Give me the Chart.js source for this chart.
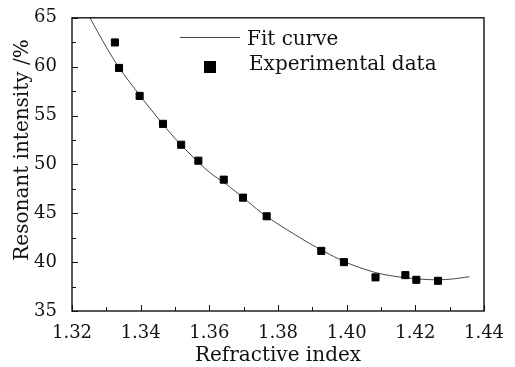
<!DOCTYPE html>
<html>
<head>
<meta charset="utf-8">
<script src="https://cdn.jsdelivr.net/npm/chart.js@4.4.1/dist/chart.umd.min.js"></script>
<style>
  html, body { margin: 0; padding: 0; background: #fff; }
  #wrap { width: 515px; height: 367px; }
</style>
</head>
<body>
<div id="wrap"><canvas id="chart"></canvas></div>
<script>
// measured points
const expIndex = [1.3325, 1.3337, 1.3397, 1.3465, 1.3518, 1.3568, 1.3642, 1.3698, 1.3767, 1.3926, 1.3992, 1.4084, 1.4171, 1.4203, 1.4266];
const expIntensity = [62.48, 59.87, 57.01, 54.15, 52.01, 50.38, 48.44, 46.6, 44.69, 41.15, 40.0, 38.44, 38.67, 38.19, 38.09];

// fitted curve
const fitIndex = [1.3252, 1.330, 1.3337, 1.340, 1.345, 1.350, 1.355, 1.360, 1.365, 1.370, 1.375, 1.380, 1.385, 1.390, 1.395, 1.400, 1.405, 1.410, 1.415, 1.420, 1.425, 1.430, 1.4357];
const fitIntensity = [65.0, 62.0, 59.9, 56.95, 54.75, 52.65, 50.85, 49.2, 47.95, 46.55, 45.1, 43.9, 42.8, 41.75, 40.8, 39.95, 39.3, 38.8, 38.5, 38.3, 38.2, 38.25, 38.5];

// axis ticks
const xTicks = [1.32, 1.34, 1.36, 1.38, 1.40, 1.42, 1.44];
const xMinor = [1.33, 1.35, 1.37, 1.39, 1.41, 1.43];
const yTicks = [35, 40, 45, 50, 55, 60, 65];
const yMinor = [37.5, 42.5, 47.5, 52.5, 57.5, 62.5];

const serif = "'DejaVu Serif', serif";
Chart.defaults.font.family = serif;
Chart.defaults.color = '#111';

const toPts = (xs, ys) => xs.map((v, i) => ({x: v, y: ys[i]}));

// box frame + inward tick marks
const frameTicks = {
  id: 'frameTicks',
  afterDatasetsDraw(chart) {
    const {ctx, chartArea: a, scales: {x, y}} = chart;
    ctx.save();
    ctx.strokeStyle = '#111';
    ctx.lineWidth = 1;
    ctx.beginPath();
    xTicks.forEach(v => {
      const px = Math.round(x.getPixelForValue(v)) + 0.5;
      ctx.moveTo(px, a.bottom); ctx.lineTo(px, a.bottom - 6);
    });
    xMinor.forEach(v => {
      const px = Math.round(x.getPixelForValue(v)) + 0.5;
      ctx.moveTo(px, a.bottom); ctx.lineTo(px, a.bottom - 4);
    });
    yTicks.forEach(v => {
      const py = Math.round(y.getPixelForValue(v)) + 0.5;
      ctx.moveTo(a.left, py); ctx.lineTo(a.left + 6, py);
    });
    yMinor.forEach(v => {
      const py = Math.round(y.getPixelForValue(v)) + 0.5;
      ctx.moveTo(a.left, py); ctx.lineTo(a.left + 4, py);
    });
    ctx.stroke();
    ctx.lineWidth = 1.4;
    ctx.strokeRect(a.left, a.top, a.right - a.left, a.bottom - a.top);

    // y axis title
    ctx.fillStyle = '#111';
    ctx.font = '20px ' + serif;
    ctx.textAlign = 'center';
    ctx.textBaseline = 'middle';
    ctx.translate(23, 150);
    ctx.rotate(-Math.PI / 2);
    ctx.fillText('Resonant intensity /%', 0, 0);
    ctx.restore();
  }
};

// legend in the upper right
const legendBox = {
  id: 'legendBox',
  afterDraw(chart) {
    const {ctx} = chart;
    const [fit, exp] = chart.data.datasets;
    ctx.save();
    ctx.font = '20px ' + serif;
    ctx.fillStyle = '#111';
    ctx.textAlign = 'left';
    ctx.textBaseline = 'alphabetic';

    ctx.strokeStyle = fit.borderColor;
    ctx.lineWidth = fit.borderWidth;
    ctx.beginPath();
    ctx.moveTo(180, 37.5); ctx.lineTo(240, 37.5);
    ctx.stroke();
    ctx.fillText(fit.label, 247, 45);

    ctx.fillStyle = exp.backgroundColor;
    ctx.fillRect(204, 61, 12, 12);
    ctx.fillStyle = '#111';
    ctx.fillText(exp.label, 249, 70);
    ctx.restore();
  }
};

const chart = new Chart(document.getElementById('chart'), {
  type: 'scatter',
  data: {
    datasets: [{
      label: 'Fit curve',
      data: toPts(fitIndex, fitIntensity),
      showLine: true,
      borderColor: '#444',
      borderWidth: 1,
      pointRadius: 0,
      tension: 0.3,
      order: 1
    }, {
      label: 'Experimental data',
      data: toPts(expIndex, expIntensity),
      pointStyle: 'rect',
      pointRadius: 5,
      pointBorderWidth: 1,
      backgroundColor: '#000',
      borderColor: '#000',
      order: 0
    }]
  },
  options: {
    responsive: true,
    maintainAspectRatio: false,
    animation: false,
    layout: { padding: { left: 0, right: 31, top: 17, bottom: 0 } },
    plugins: {
      legend: { display: false },
      tooltip: { enabled: false }
    },
    scales: {
      x: {
        type: 'linear',
        min: 1.32,
        max: 1.44,
        afterBuildTicks: s => { s.ticks = xTicks.map(v => ({value: v})); },
        afterFit: s => { s.height = 56; },
        grid: { display: false },
        border: { display: false },
        ticks: {
          padding: 4,
          font: { size: 18 },
          callback: v => v.toFixed(2)
        },
        title: {
          display: true,
          text: 'Refractive index',
          font: { size: 20, lineHeight: 1.1 },
          padding: { top: 0, bottom: 0 }
        }
      },
      y: {
        min: 35,
        max: 65,
        afterBuildTicks: s => { s.ticks = yTicks.map(v => ({value: v})); },
        afterFit: s => { s.width = 72; },
        grid: { display: false },
        border: { display: false },
        ticks: {
          padding: 7,
          font: { size: 18 }
        }
      }
    }
  },
  plugins: [frameTicks, legendBox]
});
</script>
</body>
</html>
